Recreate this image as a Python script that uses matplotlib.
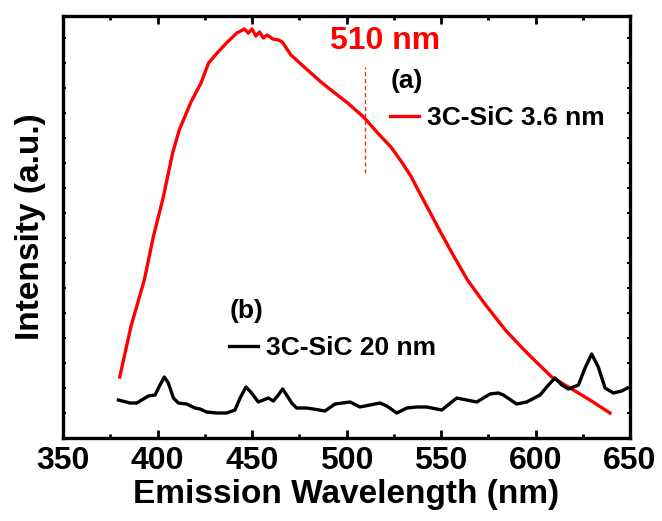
import numpy as np
import matplotlib
matplotlib.use("Agg")
import matplotlib.pyplot as plt
from matplotlib.ticker import MultipleLocator

plt.rcParams['font.family'] = ['Liberation Sans', 'DejaVu Sans']
plt.rcParams['font.weight'] = 'bold'

# PL spectrum, 3C-SiC 3.6 nm (a)
wl_a = [380, 386, 393, 398, 402.7, 408, 411.5, 417.7, 423, 427, 432, 437, 442,
        446, 448, 450, 452, 454, 456, 458, 461, 464, 466, 470.6, 477.6, 486.5,
        491.8, 500.6, 509, 516.5, 523.5, 528.8, 534, 539, 550, 557, 564, 572.8,
        584, 593.5, 599.3, 608.6, 620, 628.8, 639.4]
int_a = [61, 112, 158, 203, 238, 285, 308, 336, 355, 375, 386, 396, 405,
         409, 405, 409, 402, 406, 400, 403, 399, 398, 396, 383, 371, 356,
         348, 335, 321, 305, 291, 277, 262, 244, 205, 181, 158, 135,
         108, 89, 78, 61, 48, 38, 25]

# PL spectrum, 3C-SiC 20 nm (b)
wl_b = [379.3, 385.4, 389, 392.5, 395.1, 398.7, 401.3, 403.6, 405.7, 408.4,
        411, 415.4, 419.8, 422.5, 426, 431.3, 436.6, 441, 443.7, 446.8, 449.8,
        453.3, 456, 458.6, 461.3, 463.9, 466.2, 468.3, 471, 473.6, 478.9,
        482.4, 488.6, 493.9, 501.9, 507.1, 517.7, 521.3, 526.6, 531.9, 537.1,
        542.4, 550.4, 558.3, 563.6, 568.9, 575.9, 580.3, 583, 590, 595.3,
        602.4, 606.8, 610.3, 613.9, 617.4, 622.7, 626.2, 629.7, 633.2, 636.8,
        641.2, 645.6, 648.6]
int_b = [38, 35, 35, 39, 42, 43, 53, 61, 55, 40,
         35, 34, 30, 29, 26, 25, 25, 28, 40, 51, 45,
         36, 38, 40, 37, 43, 49, 43, 35, 30, 30,
         29, 27, 34, 36, 31, 35, 32, 25, 30, 31,
         31, 28, 40, 38, 36, 44, 45, 43, 34, 36,
         43, 53, 60, 53, 49, 53, 70, 84, 71, 50,
         45, 47, 50]

peak_wl = 510
peak_label = '510 nm'

fig = plt.figure(figsize=(6.62, 5.21), dpi=100)
ax = fig.add_axes([0.0952, 0.1593, 0.8565, 0.81])

la, = ax.plot(wl_a, int_a, color='#ff0000', lw=2.4, solid_joinstyle='round')
lb, = ax.plot(wl_b, int_b, color='black', lw=2.4, solid_joinstyle='round')

ax.vlines(peak_wl, 265, 371, colors='#f03030', lw=1.0, linestyles=(0, (3, 2)))
ax.text(520.4, 396.5, peak_label, color='#ff0000', fontsize=23, fontweight='bold',
        ha='center', va='center')

ax.set_xlim(350, 650)
ax.set_ylim(0, 422)
ax.xaxis.set_major_locator(MultipleLocator(50))
ax.xaxis.set_minor_locator(MultipleLocator(25))
ax.yaxis.set_major_locator(MultipleLocator(25))
ax.tick_params(axis='x', which='major', direction='in', length=5.5, width=2,
               top=True, labelsize=23, pad=6)
ax.tick_params(axis='x', which='minor', direction='in', length=3, width=2, top=True)
ax.tick_params(axis='y', which='major', direction='in', length=2.5, width=1.5,
               right=True, labelleft=False)
for lab in ax.get_xticklabels():
    lab.set_fontweight('bold')
for s in ax.spines.values():
    s.set_linewidth(2.4)

ax.set_xlabel('Emission Wavelength (nm)', fontsize=24, fontweight='bold', labelpad=2)
ax.set_ylabel('Intensity (a.u.)', fontsize=24, fontweight='bold', labelpad=12)

leg_a = ax.legend(handles=[la], labels=['3C-SiC 3.6 nm'], title='(a)',
                  loc='upper left', bbox_to_anchor=(0.577, 0.875), frameon=False,
                  prop={'size': 19, 'weight': 'bold'}, handlelength=1.1,
                  handletextpad=0.3, borderpad=0, borderaxespad=0,
                  alignment='left')
leg_a.get_title().set_fontsize(19)
leg_a.get_title().set_fontweight('bold')
ax.add_artist(leg_a)

leg_b = ax.legend(handles=[lb], labels=['3C-SiC 20 nm'], title='(b)',
                  loc='upper left', bbox_to_anchor=(0.293, 0.33), frameon=False,
                  prop={'size': 19, 'weight': 'bold'}, handlelength=1.1,
                  handletextpad=0.3, borderpad=0, borderaxespad=0,
                  alignment='left')
leg_b.get_title().set_fontsize(19)
leg_b.get_title().set_fontweight('bold')

fig.savefig('out.png', dpi=100)
